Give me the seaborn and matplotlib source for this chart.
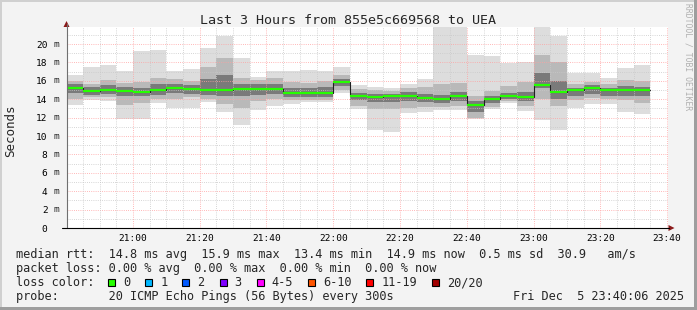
import matplotlib
matplotlib.use("Agg")
import numpy as np
import pandas as pd
import seaborn as sns
import matplotlib.pyplot as plt
from matplotlib.patches import Rectangle, Polygon

# ---------------- data (values in ms) ----------------
bar_start = pd.date_range("2025-12-05 20:40", periods=35, freq="5min")
rtt_median = [15.25, 14.9, 15.0, 14.9, 14.8, 15.05, 15.25, 15.15, 15.0, 15.0,
              15.15, 15.15, 15.15, 14.7, 14.7, 14.7, 15.9, 14.35, 14.25, 14.35,
              14.35, 14.1, 14.0, 14.3, 13.4, 14.05, 14.4, 14.2, 15.55, 14.8,
              14.95, 15.2, 14.95, 15.05, 14.95]
rtt_min = [13.4, 13.9, 13.8, 11.9, 11.85, 13.6, 13.0, 13.0, 13.7, 12.6,
           11.2, 12.8, 13.3, 13.5, 13.7, 13.7, 14.7, 12.9, 10.6, 10.4,
           12.5, 12.6, 12.8, 12.85, 11.85, 12.9, 13.55, 12.75, 11.7, 10.65,
           13.0, 13.5, 13.45, 12.65, 12.4]
rtt_p10 = [14.0, 14.2, 14.2, 13.4, 13.6, 14.0, 14.0, 14.2, 14.0, 13.5,
           13.0, 13.8, 14.0, 13.9, 13.9, 13.9, 15.0, 13.3, 12.9, 12.9,
           13.0, 13.1, 13.2, 13.3, 12.0, 13.2, 13.8, 13.3, 14.0, 13.3,
           13.9, 14.1, 14.0, 13.9, 13.6]
rtt_p25 = [14.7, 14.5, 14.6, 14.4, 14.3, 14.5, 14.7, 14.6, 14.5, 14.4,
           14.3, 14.5, 14.6, 14.2, 14.2, 14.2, 15.4, 13.9, 13.7, 13.7,
           13.8, 13.7, 13.6, 13.8, 12.6, 13.6, 14.0, 13.8, 15.2, 14.0,
           14.3, 14.6, 14.4, 14.4, 14.4]
rtt_p75 = [15.6, 15.3, 15.5, 15.3, 15.2, 15.6, 15.7, 15.5, 16.2, 16.6,
           15.7, 15.6, 15.7, 15.2, 15.2, 15.3, 16.2, 14.7, 14.6, 14.6,
           14.8, 14.6, 14.5, 14.8, 13.8, 14.4, 14.7, 14.8, 16.8, 16.0,
           15.2, 15.5, 15.2, 15.4, 15.3]
rtt_p90 = [16.0, 15.7, 16.1, 15.8, 15.9, 16.3, 16.2, 16.0, 17.5, 18.5,
           16.3, 16.1, 16.3, 15.9, 15.8, 16.0, 16.6, 15.1, 15.0, 14.9,
           15.2, 15.3, 15.6, 15.8, 14.3, 14.9, 15.4, 15.9, 18.8, 18.0,
           15.7, 15.9, 15.6, 16.1, 16.0]
rtt_max = [16.6, 17.5, 17.7, 17.1, 19.2, 19.35, 17.1, 17.3, 19.6, 20.9,
           18.5, 16.4, 17.1, 17.1, 17.2, 17.1, 17.5, 15.55, 15.3, 15.2,
           15.7, 16.2, 23.0, 23.0, 18.8, 18.7, 17.9, 18.05, 23.0, 20.9,
           16.8, 16.9, 16.3, 17.35, 17.7]

y_ticks = [0, 2, 4, 6, 8, 10, 12, 14, 16, 18, 20]
x_tick_labels = ["21:00", "21:20", "21:40", "22:00", "22:20", "22:40",
                 "23:00", "23:20", "23:40"]
title = "Last 3 Hours from 855e5c669568 to UEA"
line_rtt = "median rtt:  14.8 ms avg  15.9 ms max  13.4 ms min  14.9 ms now  0.5 ms sd  30.9   am/s"
line_loss = "packet loss: 0.00 % avg  0.00 % max  0.00 % min  0.00 % now"
line_probe = "probe:       20 ICMP Echo Pings (56 Bytes) every 300s"
stamp = "Fri Dec  5 23:40:06 2025"
loss_labels = ["0", "1", "2", "3", "4-5", "6-10", "11-19", "20/20"]
loss_colors = ["#26ff00", "#00b8ff", "#0059ff", "#7e00ff", "#ff00ff",
               "#ff5500", "#ff0000", "#a10000"]

# ---------------- figure ----------------
sns.set_style("white")
plt.rcParams['font.family'] = ['DejaVu Sans Mono', 'DejaVu Sans']

W, H = 697, 310
BG = "#f3f3f3"
fig = plt.figure(figsize=(W / 100, H / 100), dpi=100, facecolor=BG)

def fx(px):
    return px / W

def fy(py):
    return 1 - py / H

L, R, T, B = 66.5, 667.5, 27.0, 228.0
ax = fig.add_axes([fx(L), fy(B), (R - L) / W, (B - T) / H])
ax.set_facecolor("white")

x0 = np.asarray(bar_start.hour * 60 + bar_start.minute, dtype=float)
width = 5.0
xmin, xmax = x0[0] + 0.1, x0[0] + 180.1
ax.set_xlim(xmin, xmax)
ax.set_ylim(0, 21.85)

lo = np.array(rtt_min); hi = np.array(rtt_max)
p10 = np.array(rtt_p10); p90 = np.array(rtt_p90)
p25 = np.array(rtt_p25); p75 = np.array(rtt_p75)
med = np.array(rtt_median)

ax.bar(x0, hi - lo, bottom=lo, width=width, align="edge", color="#dddddd", lw=0, zorder=2)
ax.bar(x0, p90 - p10, bottom=p10, width=width, align="edge", color="#b9b9b9", lw=0, zorder=2.1)
ax.bar(x0, p75 - p25, bottom=p25, width=width, align="edge", color="#7a7a7a", lw=0, zorder=2.2)

# grid (drawn over the smoke, like rrdtool)
dot = (0, (1, 1.6))
for v in np.arange(1, 22, 1):
    if v % 2 == 0:
        ax.axhline(v, color="#ffa0a0", lw=0.6, ls=dot, zorder=3)
    else:
        ax.axhline(v, color="#c8c8c8", lw=0.6, ls=dot, zorder=3)
for m in np.arange(1245, 1421, 5):
    if m % 20 == 0:
        ax.axvline(m, color="#ffa0a0", lw=0.6, ls=dot, zorder=3)
    else:
        ax.axvline(m, color="#c8c8c8", lw=0.6, ls=dot, zorder=3)

# median line: dark step connector + green segments
df = pd.DataFrame({"t": np.append(x0, x0[-1] + width),
                   "rtt": np.append(med, med[-1])})
sns.lineplot(data=df, x="t", y="rtt", drawstyle="steps-post", color="#202020",
             lw=0.8, estimator=None, ax=ax, zorder=4)
ax.hlines(med, x0, x0 + width, colors=loss_colors[0], lw=1.6, zorder=5)

# axes cosmetics
for s in ax.spines.values():
    s.set_visible(False)
ax.set_xlabel("")
ax.set_ylabel("")
xt = [int(s[:2]) * 60 + int(s[3:]) for s in x_tick_labels]
ax.set_xticks(xt)
ax.set_xticklabels(x_tick_labels)
ax.set_yticks(y_ticks)
ax.set_yticklabels([str(v) for v in y_ticks])
ax.tick_params(axis="x", length=0, pad=4.6, labelsize=6.8, colors="black")
ax.tick_params(axis="y", length=2, width=0.7, color="#ff8080", pad=11.6,
               labelsize=6.8, labelcolor="black")
for v in y_ticks:
    if v != 0:
        ax.text(-0.0166, v, "m", transform=ax.get_yaxis_transform(),
                ha="center", va="center", fontsize=6.8)

# axis lines and arrows (figure pixel coordinates)
fig.add_artist(plt.Line2D([fx(L), fx(L)], [fy(B), fy(T - 3)], color="#707070", lw=0.8))
fig.add_artist(plt.Line2D([fx(62), fx(R + 1)], [fy(B), fy(B)], color="black", lw=0.8))
fig.add_artist(Polygon([(fx(L - 3), fy(T)), (fx(L + 3), fy(T)), (fx(L), fy(T - 6))],
                       closed=True, color="#8b1a1a", lw=0))
fig.add_artist(Polygon([(fx(R + 1), fy(B - 3)), (fx(R + 1), fy(B + 3)), (fx(R + 7), fy(B))],
                       closed=True, color="#8b1a1a", lw=0))

# texts
fig.text(fx(347.5), fy(24), title, ha="center", va="baseline", fontsize=9.6)
fig.text(fx(10.5), fy(131), "Seconds", rotation=90, ha="center", va="center", fontsize=9.0)
fig.text(fx(688), fy(57), "RRDTOOL / TOBI OETIKER", rotation=270, ha="center",
         va="center", fontsize=5.8, color="#b0b0b0")

LEG = 8.53
fig.text(fx(16), fy(258.3), line_rtt, ha="left", va="baseline", fontsize=LEG)
fig.text(fx(16), fy(272.3), line_loss, ha="left", va="baseline", fontsize=LEG)
fig.text(fx(16), fy(286.2), "loss color:", ha="left", va="baseline", fontsize=LEG)
fig.text(fx(16), fy(300.2), line_probe, ha="left", va="baseline", fontsize=LEG)
fig.text(fx(513.3), fy(300.2), stamp, ha="left", va="baseline", fontsize=LEG)

cw = 7.13
sx = 108.3
for lab, col in zip(loss_labels, loss_colors):
    fig.add_artist(Rectangle((fx(sx), fy(286.3)), 7 / W, 7 / H, facecolor=col,
                             edgecolor="black", lw=0.8, transform=fig.transFigure))
    fig.text(fx(sx + 15), fy(286.2), lab, ha="left", va="baseline", fontsize=LEG)
    sx += (len(lab) + 4.2) * cw

# frame
fig.add_artist(Rectangle((0, 0), fx(2), 1, color="#d0d0d0", lw=0, transform=fig.transFigure))
fig.add_artist(Rectangle((0, fy(2)), 1, 2 / H, color="#d0d0d0", lw=0, transform=fig.transFigure))
fig.add_artist(Rectangle((fx(W - 3), 0), 3 / W, 1, color="#9e9e9e", lw=0, transform=fig.transFigure))
fig.add_artist(Rectangle((0, 0), 1, 3 / H, color="#9e9e9e", lw=0, transform=fig.transFigure))

fig.savefig("out.png", dpi=100, facecolor=BG)
